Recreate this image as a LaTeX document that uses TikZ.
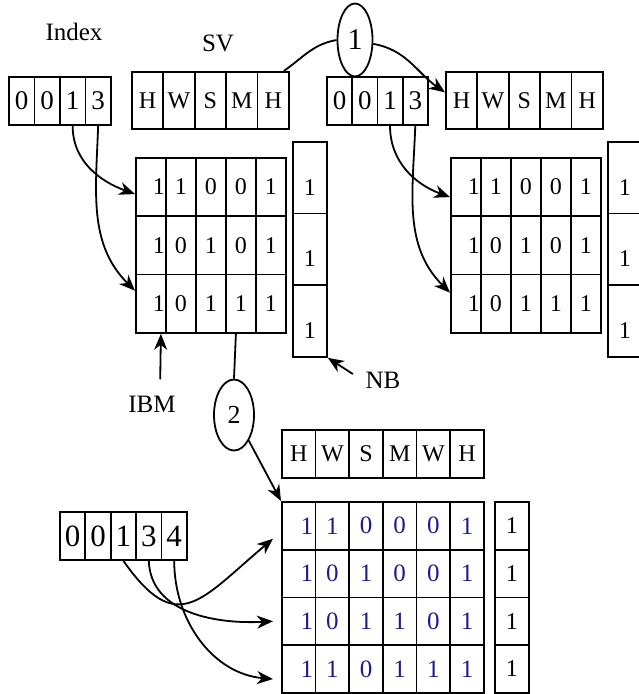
\documentclass[tikz,border=0pt]{standalone}
\usepackage{fontspec}
\setmainfont{Liberation Serif}
\usetikzlibrary{arrows.meta,shapes.geometric}
\definecolor{bitblue}{RGB}{28,28,140}
\newcommand{\cw}{28pt}
\tikzset{
	cell/.style={draw, line width=1.8pt, inner sep=0pt, anchor=north west},
	idx/.style={cell, minimum width=25.5pt, minimum height=48pt, font=\fontsize{27}{29}\selectfont},
	sv/.style={cell, minimum width=31.4pt, minimum height=57pt, font=\fontsize{24}{26}\selectfont},
	bit/.style={cell, minimum width=30pt, minimum height=58.33pt, font=\fontsize{24}{26}\selectfont},
	nb/.style={cell, minimum width=34pt, minimum height=71.67pt, text height=35pt, text depth=0pt, font=\fontsize{24}{26}\selectfont},
	cl1/.style={text width=\cw, align=right}, cl2/.style={}, cl3/.style={}, cl4/.style={}, cl5/.style={}, cl6/.style={},
	lab/.style={font=\fontsize{25}{27}\selectfont},
	oval/.style={draw, ellipse, line width=1.8pt, inner sep=0pt},
	arr/.style={-{Stealth[length=16pt,width=13pt,inset=5pt]}, line width=1.8pt},
}
\begin{document}
\begin{tikzpicture}[x=1pt,y=-1pt]
	\useasboundingbox (0,0) rectangle (639,694);
	\node[lab] (lindex) at (74,32) {Index};
	\node[lab] (lsv) at (218,43) {SV};
	\node[lab] (libm) at (152,404) {IBM};
	\node[lab] (lnb) at (383,380) {NB};
	% first step, left
	\foreach \v [count=\c] in {0,0,1,3}
		\node[idx] (idxa-\c) at (8+25.5*\c-25.5,76) {\v};
	\foreach \v [count=\c] in {H,W,S,M,H}
		\node[sv] (sva-\c) at (131+31.4*\c-31.4,71) {\v};
	\def\cw{28pt}
	\foreach \row [count=\r] in {{1,1,0,0,1},{1,0,1,0,1},{1,0,1,1,1}}
		\foreach \v [count=\c] in \row
			\node[bit, cl\c] (ma-\r-\c) at (135+30*\c-30,157+58.33*\r-58.33) {\v};
	\foreach \r in {1,2,3}
		\node[nb] (nba-\r) at (292,141+71.67*\r-71.67) {1};
	% first step, right
	\foreach \v [count=\c] in {0,0,1,3}
		\node[idx, minimum width=25.25pt] (idxb-\c) at (326+25.25*\c-25.25,76) {\v};
	\foreach \v [count=\c] in {H,W,S,M,H}
		\node[sv] (svb-\c) at (445+31.4*\c-31.4,71) {\v};
	\foreach \row [count=\r] in {{1,1,0,0,1},{1,0,1,0,1},{1,0,1,1,1}}
		\foreach \v [count=\c] in \row
			\node[bit, cl\c] (mb-\r-\c) at (450+30*\c-30,157+58.33*\r-58.33) {\v};
	\foreach \r in {1,2,3}
		\node[nb] (nbb-\r) at (607,141+71.67*\r-71.67) {1};
	% second step
	\foreach \v [count=\c] in {0,0,1,3,4}
		\node[idx, minimum width=25.4pt, font=\fontsize{31}{33}\selectfont] (idxc-\c) at (59+25.4*\c-25.4,511) {\v};
	\foreach \v [count=\c] in {H,W,S,M,W,H}
		\node[sv, minimum width=33.67pt, minimum height=48pt] (svc-\c) at (281+33.67*\c-33.67,429) {\v};
	\def\cw{29pt}
	\foreach \row [count=\r] in {{1,1,0,0,0,1},{1,0,1,0,0,1},{1,0,1,1,0,1},{1,1,0,1,1,1}}
		\foreach \v [count=\c] in \row
			\node[bit, cl\c, minimum width=33.67pt, minimum height=47.75pt, text=bitblue, font=\fontsize{25}{27}\selectfont] (mc-\r-\c) at (281+33.67*\c-33.67,501+47.75*\r-47.75) {\v};
	\foreach \r in {1,2,3,4}
		\node[cell, minimum width=34pt, minimum height=47.75pt, font=\fontsize{24}{26}\selectfont] (nbc-\r) at (494,501+47.75*\r-47.75) {1};
	\node[oval, minimum width=35pt, minimum height=73pt, font=\fontsize{30}{32}\selectfont] (e1) at (355,40) {1};
	\node[oval, minimum width=40pt, minimum height=71pt, font=\fontsize{26}{28}\selectfont] (e2) at (234,415) {2};
	% connectors
	\draw[line width=1.8pt] ([xshift=-6pt]sva-5.north east) to[out=35,in=190] (e1.west);
	\draw[arr] (e1.-12) to[out=-10,in=145] ([yshift=8pt]svb-1.west);
	\draw[arr] (idxa-3.south) to[out=-90,in=160] ([yshift=-7pt]ma-1-1.west);
	\draw[arr] (idxa-4.south) to[out=-92,in=135] ([yshift=13pt]ma-3-1.west);
	\draw[arr] (idxb-3.south) to[out=-90,in=160] ([yshift=-10pt]mb-1-1.west);
	\draw[arr] (idxb-4.south) to[out=-92,in=135] ([yshift=11pt]mb-3-1.west);
	\draw[arr, shorten <=13pt] ([xshift=8pt]libm.north) -- ([xshift=10pt]ma-3-1.south);
	\draw[arr, shorten <=11pt] (lnb.west) -- (nba-3.south east);
	\draw[line width=1.8pt] ([xshift=-5pt]ma-3-4.south) -- (e2.north);
	\draw[arr] (e2.-60) -- (mc-1-1.north west);
	\draw[arr] (idxc-3.south) to[out=-55,in=220,looseness=1.6] ([xshift=-8pt,yshift=-13pt]mc-1-1.west);
	\draw[arr] (idxc-4.south) to[out=-88,in=183] ([xshift=-8pt]mc-3-1.west);
	\draw[arr] (idxc-5.south) to[out=-90,in=175] ([xshift=-8pt,yshift=-10pt]mc-4-1.west);
\end{tikzpicture}
\end{document}
